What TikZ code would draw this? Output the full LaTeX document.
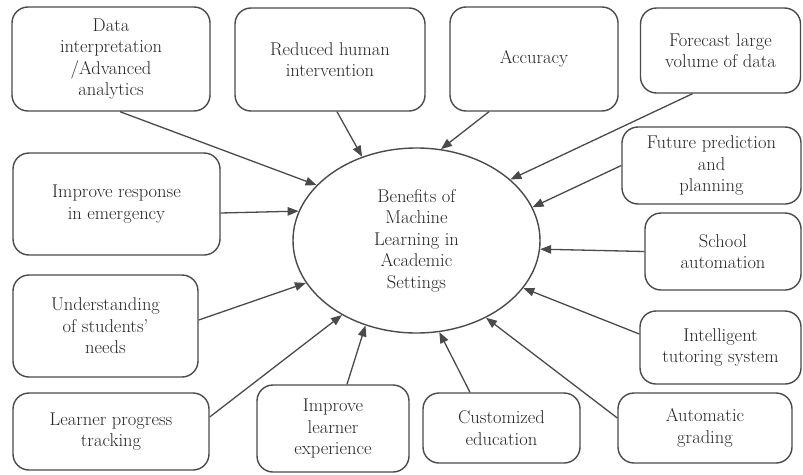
\documentclass[tikz,border=0pt]{standalone}
\usetikzlibrary{arrows.meta,shapes.geometric}
\definecolor{linec}{HTML}{4A4A4A}
\definecolor{textc}{HTML}{262626}
\begin{document}
\begin{tikzpicture}[x=1pt,y=-1pt,
  box/.style={draw=linec, line width=1.4pt, rounded corners=16pt, align=center,
    text=textc, font=\fontsize{18.5}{21.5}\selectfont, inner sep=0pt},
  hub/.style={draw=linec, line width=1.4pt, ellipse, align=center,
    text=textc, font=\fontsize{18.5}{21.5}\selectfont, inner sep=0pt},
  arr/.style={draw=linec, line width=1.3pt, -{Triangle[length=11pt,width=8.5pt]}}]
\useasboundingbox (0,0) rectangle (803,474);
\node[hub, minimum width=247pt, minimum height=185pt] (ell) at (416.5,240.5)
  {Benefits of\\Machine\\Learning in\\Academic\\Settings};
\node[box, minimum width=198pt, minimum height=104pt] (data) at (111,59)
  {Data\\interpretation\\/Advanced\\analytics};
\node[box, minimum width=190pt, minimum height=103pt] (reduced) at (330,59.5)
  {Reduced human\\intervention};
\node[box, minimum width=168pt, minimum height=104pt] (accuracy) at (534,59)
  {Accuracy};
\node[box, minimum width=160pt, minimum height=85pt] (forecast) at (720.5,50.5)
  {Forecast large\\volume of data};
\node[box, minimum width=179pt, minimum height=77pt] (future) at (711.5,165.5)
  {Future prediction\\and\\planning};
\node[box, minimum width=156pt, minimum height=77pt] (school) at (723,251.5)
  {School\\automation};
\node[box, minimum width=161pt, minimum height=73pt] (tutor) at (720.5,347.5)
  {Intelligent\\tutoring system};
\node[box, minimum width=174pt, minimum height=70pt] (grading) at (705,428)
  {Automatic\\grading};
\node[box, minimum width=157pt, minimum height=70pt] (custom) at (501.5,428)
  {Customized\\education};
\node[box, minimum width=152pt, minimum height=87pt] (experience) at (333,428.5)
  {Improve\\learner\\experience};
\node[box, minimum width=196pt, minimum height=77pt] (progress) at (111,431.5)
  {Learner progress\\tracking};
\node[box, minimum width=185pt, minimum height=102pt] (needs) at (105.5,326)
  {Understanding\\of students'\\needs};
\node[box, minimum width=207pt, minimum height=102pt] (response) at (116.5,204)
  {Improve response\\in emergency};

\draw[arr] ([xshift=9pt]data.south) -- (ell.151.4);
\draw[arr] ([xshift=7pt]reduced.south) -- (ell.123.5);
\draw[arr] ([xshift=-45pt]accuracy.south) -- (ell.75.7);
\draw[arr] ([xshift=-28pt]forecast.south) -- (ell.33.2);
\draw[arr] (future.west) -- (ell.16.8);
\draw[arr] ([yshift=-9pt]response.east) -- (ell.166.1);
\draw[arr] (school.west) -- (ell.-4.8);
\draw[arr] ([yshift=13.5pt]tutor.west) -- (ell.-24.4);
\draw[arr] ([yshift=10pt]grading.west) -- (ell.-48);
\draw[arr] ([xshift=-31.5pt]custom.north) -- (ell.-76.3);
\draw[arr] ([xshift=14pt]experience.north) -- (ell.-121.2);
\draw[arr] ([yshift=14.5pt]progress.east) -- (ell.-135.7);
\draw[arr] ([yshift=6pt]needs.east) -- (ell.-159.3);
\end{tikzpicture}
\end{document}
